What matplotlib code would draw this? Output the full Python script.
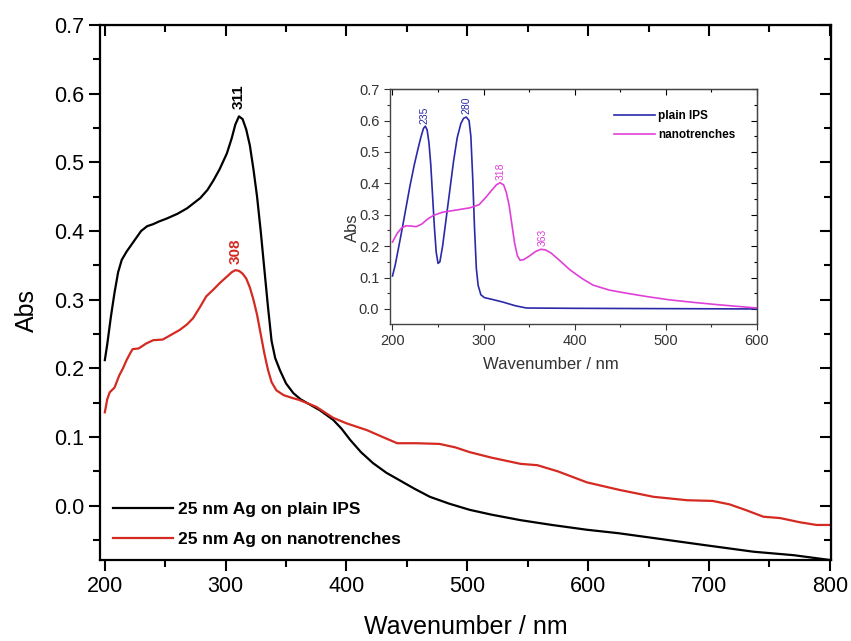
import matplotlib
matplotlib.use("Agg")
import matplotlib.pyplot as plt
from matplotlib.ticker import MultipleLocator

plt.rcParams["font.family"] = ["Liberation Sans", "DejaVu Sans"]

# --- main spectra ---
ips_x = [200, 202, 205, 208, 211, 214, 218, 222, 226, 230, 235, 240, 245, 251, 260, 268,
         279, 285, 290, 295, 301, 305, 308, 311, 314, 317, 320, 323, 326, 329, 332, 335,
         338, 341, 345, 350, 356, 362, 370, 378, 389, 396, 403, 412, 422, 433, 444, 456,
         469, 485, 502, 520, 544, 570, 599, 625, 654, 695, 737, 770, 800]
ips_y = [0.212, 0.235, 0.275, 0.31, 0.34, 0.358, 0.37, 0.38, 0.39, 0.40, 0.407, 0.41,
         0.414, 0.418, 0.425, 0.433, 0.448, 0.46, 0.474, 0.49, 0.513, 0.535, 0.555, 0.567,
         0.563, 0.548, 0.525, 0.49, 0.45, 0.40, 0.345, 0.29, 0.24, 0.215, 0.197, 0.178,
         0.164, 0.155, 0.147, 0.139, 0.125, 0.112, 0.096, 0.078, 0.062, 0.048, 0.037, 0.025,
         0.013, 0.003, -0.006, -0.013, -0.021, -0.028, -0.035, -0.040, -0.047, -0.057,
         -0.067, -0.072, -0.079]

nano_x = [200, 202, 204, 208, 212, 215, 218, 221, 223, 228, 234, 240, 248, 255, 262, 268,
          273, 279, 284, 290, 295, 300, 305, 308, 311, 314, 317, 320, 323, 326, 329, 332,
          335, 338, 342, 348, 355, 361, 368, 375, 382, 389, 400, 417, 430, 442, 458, 477,
          490, 502, 520, 544, 558, 575, 599, 626, 654, 682, 703, 717, 730, 745, 759, 775,
          789, 800]
nano_y = [0.136, 0.155, 0.165, 0.172, 0.19, 0.2, 0.212, 0.222, 0.228, 0.229, 0.236, 0.241,
          0.242, 0.249, 0.256, 0.264, 0.273, 0.29, 0.305, 0.315, 0.324, 0.332, 0.34, 0.343,
          0.342, 0.338, 0.331, 0.318, 0.300, 0.278, 0.250, 0.222, 0.198, 0.180, 0.168,
          0.161, 0.157, 0.154, 0.149, 0.144, 0.136, 0.128, 0.12, 0.110, 0.100, 0.091, 0.091,
          0.090, 0.085, 0.078, 0.070, 0.061, 0.059, 0.050, 0.034, 0.023, 0.013, 0.008, 0.007,
          0.002, -0.006, -0.016, -0.018, -0.024, -0.028, -0.028]

# --- inset spectra ---
ins_ips_x = [200, 203, 207, 211, 215, 219, 224, 228, 231, 234, 236, 238, 240, 242, 244,
             246, 248, 250, 252, 255, 259, 263, 267, 271, 275, 278, 281, 284, 286, 288,
             290, 292, 294, 297, 301, 310, 321, 335, 347, 400, 500, 600]
ins_ips_y = [0.105, 0.14, 0.2, 0.261, 0.325, 0.389, 0.46, 0.51, 0.545, 0.575, 0.582, 0.57,
             0.53, 0.46, 0.36, 0.26, 0.18, 0.145, 0.15, 0.2, 0.29, 0.38, 0.47, 0.545, 0.59,
             0.607, 0.611, 0.60, 0.55, 0.42, 0.26, 0.13, 0.075, 0.045, 0.036, 0.03, 0.022,
             0.01, 0.003, 0.002, 0.001, 0.0]

ins_nano_x = [200, 205, 210, 215, 220, 226, 232, 238, 245, 255, 270, 285, 295, 303, 308,
              314, 318, 322, 325, 328, 331, 334, 337, 340, 344, 350, 357, 363, 368, 374,
              382, 395, 408, 420, 438, 457, 480, 504, 530, 559, 600]
ins_nano_y = [0.213, 0.24, 0.258, 0.265, 0.264, 0.262, 0.27, 0.285, 0.298, 0.308, 0.315,
              0.322, 0.332, 0.357, 0.375, 0.395, 0.402, 0.395, 0.37, 0.33, 0.27, 0.21, 0.17,
              0.155, 0.157, 0.168, 0.183, 0.19, 0.188, 0.178, 0.158, 0.124, 0.097, 0.076,
              0.06, 0.05, 0.039, 0.029, 0.021, 0.013, 0.003]

red = "#d42a22"
blue = "#2a2aa8"
magenta = "#e040d8"

fig = plt.figure(figsize=(8.51, 6.41), dpi=100)

# --- main axes ---
ax = fig.add_axes([0.1175, 0.1264, 0.859, 0.8346])
ax.plot(ips_x, ips_y, color="black", lw=1.6, label="25 nm Ag on plain IPS")
ax.plot(nano_x, nano_y, color=red, lw=1.6, label="25 nm Ag on nanotrenches")
ax.set_xlim(196, 801)
ax.set_ylim(-0.079, 0.7)
ax.xaxis.set_major_locator(MultipleLocator(100))
ax.xaxis.set_minor_locator(MultipleLocator(50))
ax.yaxis.set_major_locator(MultipleLocator(0.1))
ax.yaxis.set_minor_locator(MultipleLocator(0.05))
ax.yaxis.set_major_formatter(plt.FormatStrFormatter("%.1f"))
ax.tick_params(which="major", direction="out", length=8, width=1.5, labelsize=15.5)
ax.tick_params(which="minor", direction="out", length=5, width=1.5)
for s in ax.spines.values():
    s.set_linewidth(1.6)

# inward ticks on top and right
top = ax.secondary_xaxis("top")
top.xaxis.set_major_locator(MultipleLocator(100))
top.xaxis.set_minor_locator(MultipleLocator(50))
top.tick_params(which="major", direction="in", length=8, width=1.5, labeltop=False)
top.tick_params(which="minor", direction="in", length=5, width=1.5)
right = ax.secondary_yaxis("right")
right.yaxis.set_major_locator(MultipleLocator(0.1))
right.yaxis.set_minor_locator(MultipleLocator(0.05))
right.tick_params(which="major", direction="in", length=8, width=1.5, labelright=False)
right.tick_params(which="minor", direction="in", length=5, width=1.5)

ax.set_xlabel("Wavenumber / nm", fontsize=18)
ax.set_ylabel("Abs", fontsize=18)
ax.xaxis.set_label_coords(0.5, -0.103)
ax.yaxis.set_label_coords(-0.084, 0.467)

ax.text(311, 0.578, "311", rotation=90, ha="center", va="bottom", fontsize=11,
        fontweight="bold", color="black")
ax.text(308, 0.352, "308", rotation=90, ha="center", va="bottom", fontsize=11,
        fontweight="bold", color=red)

ax.legend(loc="lower left", bbox_to_anchor=(0.0, 0.0), frameon=False,
          prop={"weight": "bold", "size": 12.5}, handlelength=3.45, handletextpad=0.3,
          labelspacing=0.85, borderaxespad=0.35)

# --- inset axes ---
ins = fig.add_axes([0.458, 0.4945, 0.4315, 0.3665])
ins.plot(ins_ips_x, ins_ips_y, color=blue, lw=1.2, label="plain IPS")
ins.plot(ins_nano_x, ins_nano_y, color=magenta, lw=1.2, label="nanotrenches")
ins.set_xlim(197, 600)
ins.set_ylim(-0.048, 0.7)
ins.xaxis.set_major_locator(MultipleLocator(100))
ins.xaxis.set_minor_locator(MultipleLocator(50))
ins.yaxis.set_major_locator(MultipleLocator(0.1))
ins.yaxis.set_minor_locator(MultipleLocator(0.05))
ins.yaxis.set_major_formatter(plt.FormatStrFormatter("%.1f"))
ins.tick_params(which="major", direction="out", length=4, width=0.8, labelsize=10.5,
                colors="#333333")
ins.tick_params(which="minor", direction="out", length=2.5, width=0.8, colors="#333333")
for s in ins.spines.values():
    s.set_linewidth(1.0)
    s.set_color("#444444")

itop = ins.secondary_xaxis("top")
itop.xaxis.set_major_locator(MultipleLocator(100))
itop.xaxis.set_minor_locator(MultipleLocator(50))
itop.tick_params(which="major", direction="in", length=4, width=0.8, labeltop=False)
itop.tick_params(which="minor", direction="in", length=2.5, width=0.8)
iright = ins.secondary_yaxis("right")
iright.yaxis.set_major_locator(MultipleLocator(0.1))
iright.yaxis.set_minor_locator(MultipleLocator(0.05))
iright.tick_params(which="major", direction="in", length=4, width=0.8, labelright=False)
iright.tick_params(which="minor", direction="in", length=2.5, width=0.8)

ins.set_xlabel("Wavenumber / nm", fontsize=12, color="#333333")
ins.set_ylabel("Abs", fontsize=12, color="#333333")
ins.xaxis.set_label_coords(0.44, -0.14)
ins.yaxis.set_label_coords(-0.082, 0.41)

ins.text(235, 0.59, "235", rotation=90, ha="center", va="bottom", fontsize=7.5, color=blue)
ins.text(281, 0.62, "280", rotation=90, ha="center", va="bottom", fontsize=7.5, color=blue)
ins.text(319, 0.41, "318", rotation=90, ha="center", va="bottom", fontsize=7.5, color=magenta)
ins.text(365, 0.2, "363", rotation=90, ha="center", va="bottom", fontsize=7.5, color=magenta)

ins.legend(loc="upper right", frameon=False, prop={"weight": "bold", "size": 8.5},
           handlelength=3.4, handletextpad=0.3, labelspacing=0.6,
           bbox_to_anchor=(0.97, 0.955))

fig.savefig("out.png", dpi=100)
